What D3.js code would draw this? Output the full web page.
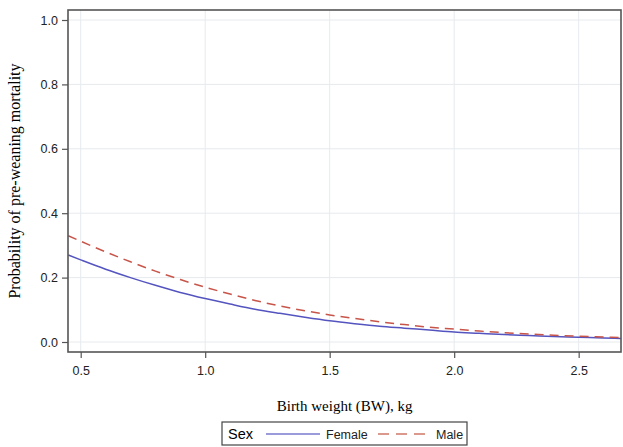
<!DOCTYPE html>
<html>
<head>
<meta charset="utf-8">
<script src="https://cdn.jsdelivr.net/npm/d3@7"></script>
<style>
  body { margin: 0; background: #fff; }
  svg { display: block; }
</style>
</head>
<body>
<div id="chart"></div>
<script>
// birth weight (kg) where the curves were read
var bw = [0.45, 0.5, 0.6, 0.7, 0.8, 0.9, 1.0, 1.1, 1.2, 1.3, 1.4, 1.5, 1.6, 1.7, 1.8, 1.9, 2.0, 2.1, 2.2, 2.3, 2.4, 2.5, 2.6, 2.67];
var female = [0.270, 0.255, 0.226, 0.200, 0.176, 0.154, 0.135, 0.118, 0.102, 0.089, 0.077, 0.066, 0.057, 0.049, 0.043, 0.037, 0.031, 0.027, 0.023, 0.020, 0.017, 0.015, 0.0125, 0.0112];
var male = [0.330, 0.313, 0.280, 0.249, 0.220, 0.194, 0.170, 0.149, 0.129, 0.112, 0.097, 0.084, 0.073, 0.063, 0.054, 0.046, 0.040, 0.034, 0.029, 0.025, 0.021, 0.018, 0.0156, 0.014];
var xTicks = [0.5, 1.0, 1.5, 2.0, 2.5];
var yTicks = [0.0, 0.2, 0.4, 0.6, 0.8, 1.0];

var width = 623, height = 447;
var plot = { left: 68, right: 621, top: 10, bottom: 352 };

var svg = d3.select("#chart").append("svg")
  .attr("width", width)
  .attr("height", height);

var x = d3.scaleLinear().domain([0.449, 2.67]).range([plot.left, plot.right]);
var y = d3.scaleLinear().domain([0, 1]).range([342, 20]);

// grid
svg.append("g").selectAll("line").data(xTicks).enter().append("line")
  .attr("x1", function(d) { return x(d); })
  .attr("x2", function(d) { return x(d); })
  .attr("y1", plot.top).attr("y2", plot.bottom)
  .attr("stroke", "#e6eaee").attr("stroke-width", 1);
svg.append("g").selectAll("line").data(yTicks).enter().append("line")
  .attr("x1", plot.left).attr("x2", plot.right)
  .attr("y1", function(d) { return y(d); })
  .attr("y2", function(d) { return y(d); })
  .attr("stroke", "#e6eaee").attr("stroke-width", 1);

// lines
var line = function(vals) {
  return d3.line()
    .x(function(d, i) { return x(bw[i]); })
    .y(function(d) { return y(d); })
    .curve(d3.curveMonotoneX)(vals);
};
svg.append("path").attr("d", line(female))
  .attr("fill", "none").attr("stroke", "#5454c0").attr("stroke-width", 1.5);
svg.append("path").attr("d", line(male))
  .attr("fill", "none").attr("stroke", "#c8554a").attr("stroke-width", 1.5)
  .attr("stroke-dasharray", "9,6");

// frame
svg.append("rect")
  .attr("x", plot.left).attr("y", plot.top)
  .attr("width", plot.right - plot.left).attr("height", plot.bottom - plot.top)
  .attr("fill", "none").attr("stroke", "#555").attr("stroke-width", 1.6);

// axes
var xAxis = svg.append("g")
  .attr("transform", "translate(0," + plot.bottom + ")")
  .call(d3.axisBottom(x).tickValues(xTicks).tickFormat(d3.format(".1f")).tickSizeOuter(0).tickSize(6).tickPadding(8));
var yAxis = svg.append("g")
  .attr("transform", "translate(" + plot.left + ",0)")
  .call(d3.axisLeft(y).tickValues(yTicks).tickFormat(d3.format(".1f")).tickSizeOuter(0).tickSize(6).tickPadding(4));
[xAxis, yAxis].forEach(function(a) {
  a.select(".domain").remove();
  a.selectAll(".tick line").attr("stroke", "#555").attr("stroke-width", 1.2);
  a.selectAll(".tick text")
    .attr("fill", "#222")
    .style("font-family", "Liberation Sans, Arial, sans-serif")
    .style("font-size", "12.5px");
});

// axis titles
svg.append("text")
  .attr("x", x(1.56)).attr("y", 411)
  .attr("text-anchor", "middle")
  .style("font-family", "Liberation Serif, Times New Roman, serif")
  .style("font-size", "15px")
  .text("Birth weight (BW), kg");
svg.append("text")
  .attr("transform", "translate(20," + 181 + ") rotate(-90)")
  .attr("text-anchor", "middle")
  .style("font-family", "Liberation Serif, Times New Roman, serif")
  .style("font-size", "16px")
  .text("Probability of pre-weaning mortality");

// legend
var leg = svg.append("g");
leg.append("rect")
  .attr("x", 222).attr("y", 422).attr("width", 245).attr("height", 23)
  .attr("fill", "#fff").attr("stroke", "#444").attr("stroke-width", 1.2);
leg.append("text").attr("x", 228).attr("y", 439)
  .style("font-family", "Liberation Sans, Arial, sans-serif").style("font-size", "14.5px")
  .text("Sex");
leg.append("line").attr("x1", 266).attr("x2", 320).attr("y1", 434).attr("y2", 434)
  .attr("stroke", "#7a7ad0").attr("stroke-width", 1.5);
leg.append("text").attr("x", 326).attr("y", 439)
  .style("font-family", "Liberation Sans, Arial, sans-serif").style("font-size", "12.5px")
  .attr("fill", "#222")
  .text("Female");
leg.append("line").attr("x1", 378).attr("x2", 428).attr("y1", 434).attr("y2", 434)
  .attr("stroke", "#d07868").attr("stroke-width", 1.5).attr("stroke-dasharray", "11,7");
leg.append("text").attr("x", 436).attr("y", 439)
  .style("font-family", "Liberation Sans, Arial, sans-serif").style("font-size", "12.5px")
  .attr("fill", "#222")
  .text("Male");
</script>
</body>
</html>
